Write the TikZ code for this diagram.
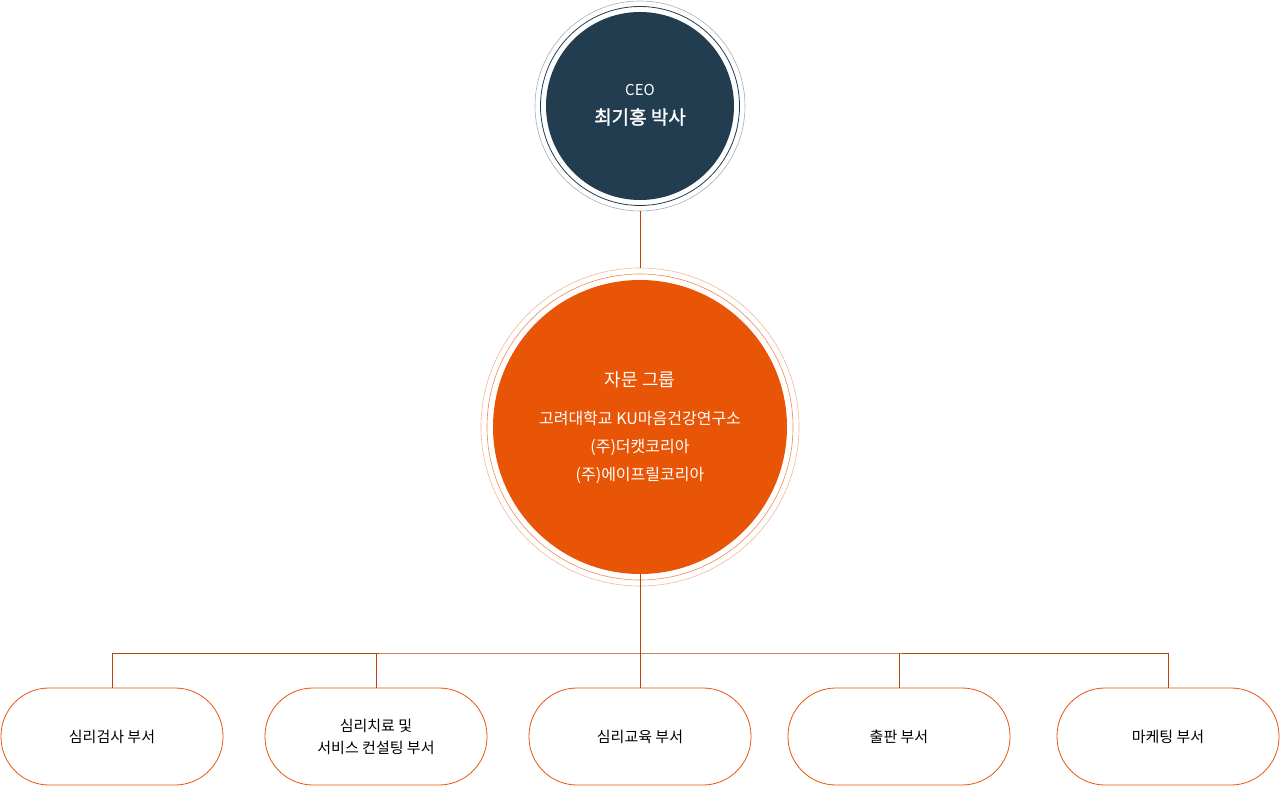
\documentclass[tikz,border=0pt]{standalone}
\usepackage{fontspec}
\setmainfont{Noto Sans CJK KR}
\newfontfamily\krbold{Noto Sans CJK KR}[FakeBold=1.5]
\definecolor{navy}{HTML}{213D4F}
\definecolor{org}{HTML}{E95506}
\definecolor{ring}{HTML}{F5B59A}
\definecolor{gring}{HTML}{A9AFB6}
\tikzset{dept/.style={draw=org,line width=0.8pt,rounded corners=48pt,minimum width=222pt,minimum height=97pt,align=center,font=\fontsize{15}{22}\selectfont,text=black,fill=white},
conn/.style={draw=org!80!black,line width=0.6pt}}
\begin{document}
\begin{tikzpicture}[x=1pt,y=-1pt]
\useasboundingbox (0,0) rectangle (1280,786);
\draw[gring,line width=0.6pt] (640,106) circle (105);
\draw[navy,line width=0.8pt] (640,106) circle (99.5);
\node[circle,fill=navy,minimum size=188pt,inner sep=0pt] (ceo) at (640,106) {};
\node[text=white,font=\fontsize{15}{18}\selectfont] (t1) at (640,90) {CEO};
\node[text=white,font=\fontsize{19}{22}\selectfont\krbold] (t2) at (640,117) {최기홍 박사};
\draw[ring,line width=0.6pt] (640,427) circle (159);
\draw[org!70,line width=0.6pt] (640,427) circle (153);
\node[circle,fill=org,minimum size=294pt,inner sep=0pt] (adv) at (640,427) {};
\node[text=white,font=\fontsize{18}{22}\selectfont] (a1) at (640,380) {자문 그룹};
\node[text=white,align=center,font=\fontsize{16}{28}\selectfont] (a2) at (640,447) {고려대학교 KU마음건강연구소\\(주)더캣코리아\\(주)에이프릴코리아};
\node[dept] (d1) at (112,736.5) {심리검사 부서};
\node[dept] (d2) at (376,736.5) {심리치료 및\\서비스 컨설팅 부서};
\node[dept] (d3) at (640,736.5) {심리교육 부서};
\node[dept] (d4) at (899,736.5) {출판 부서};
\node[dept] (d5) at (1168,736.5) {마케팅 부서};
\coordinate (j) at (640,653);
\draw[conn] (640,211) -- (640,268);
\draw[conn] (adv.south) -- (j);
\draw[conn] (d1.north) |- (j) -| (d5.north);
\draw[conn] (d2.north) -- (d2.north |- j);
\draw[conn] (d3.north) -- (j);
\draw[conn] (d4.north) -- (d4.north |- j);
\end{tikzpicture}
\end{document}
